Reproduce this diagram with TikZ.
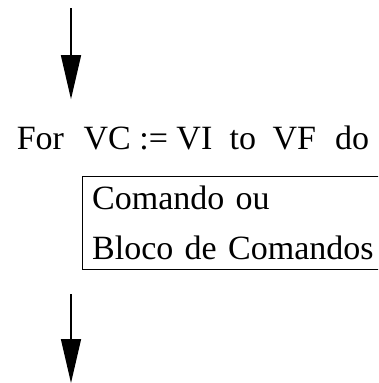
\documentclass[tikz,border=0pt]{standalone}
\usepackage{fontspec}
\setmainfont{Liberation Serif}
\usetikzlibrary{arrows.meta}
\usetikzlibrary{positioning}
\usetikzlibrary{calc}
\tikzset{
    % Long narrow arrow for the flow in and out of the loop
    flow/.style={draw, line width=1.5pt,
        -{Triangle[length=44pt, width=20pt]}},
%
    % Big serif text used throughout
    big text/.style={font=\fontsize{34}{50}\selectfont},
%
    % Box holding the loop body
    body box/.style={draw, line width=1.4pt, rectangle, align=left,
        inner xsep=9.5pt, text width=300pt, minimum height=93pt}}

\begin{document}
\begin{tikzpicture}[x=1pt, y=-1pt]
\useasboundingbox (0,0) rectangle (378,383);
\clip (0,0) rectangle (378,383);

% The loop header
\path
    node[big text, anchor=base west, inner sep=0]
        (loop) at (16.6,149)
        {For\hspace{19.6pt}VC :=\ VI\hspace{17.3pt}to\hspace{16.5pt}VF\hspace{19.1pt}do};

% The command block, cut off on the right
\path
    node[big text, body box, anchor=north west]
        (body) at (82,176) {Comando ou\\Bloco de Comandos};

% Flow into and out of the loop
\coordinate (entry) at (71,8);
\coordinate (exit) at (71,383);

\draw[flow, shorten >=26pt] (entry) -- (entry |- loop.north);
\draw[flow, shorten <=24pt] (exit |- body.south) -- (exit);

\end{tikzpicture}
\end{document}
